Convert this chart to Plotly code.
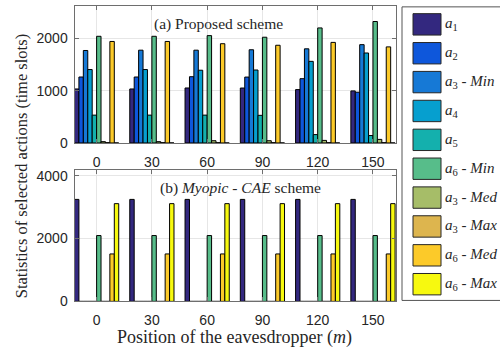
import plotly.graph_objects as go

# Eavesdropper positions (m)
positions = [0, 30, 60, 90, 120, 150]
tick_labels = ["0", "30", "60", "90", "120", "150"]

# Action labels, in bar order within each group
legend_labels = [
    "<i>a</i><sub>1</sub>",
    "<i>a</i><sub>2</sub>",
    "<i>a</i><sub>3</sub> - <i>Min</i>",
    "<i>a</i><sub>4</sub>",
    "<i>a</i><sub>5</sub>",
    "<i>a</i><sub>6</sub> - <i>Min</i>",
    "<i>a</i><sub>3</sub> - <i>Med</i>",
    "<i>a</i><sub>3</sub> - <i>Max</i>",
    "<i>a</i><sub>6</sub> - <i>Med</i>",
    "<i>a</i><sub>6</sub> - <i>Max</i>",
]
colors = ["#33287f", "#0e57db", "#1679d6", "#069fcf", "#14b0ad",
          "#57bd8a", "#a6bd68", "#ddb54e", "#fcca29", "#f7f90f"]

# (a) Proposed scheme: selection counts (time slots)
prop_a1 = [1034, 1034, 1053, 1052, 1022, 997]
prop_a2 = [1263, 1263, 1269, 1262, 1231, 972]
prop_a3_min = [1771, 1777, 1777, 1785, 1803, 1883]
prop_a4 = [1406, 1406, 1393, 1397, 1563, 1723]
prop_a5 = [533, 533, 533, 529, 160, 142]
prop_a6_min = [2043, 2043, 2056, 2025, 2203, 2326]
prop_a3_med = [25, 25, 43, 43, 49, 68]
prop_a3_max = [5, 5, 5, 5, 5, 5]
prop_a6_med = [1944, 1944, 1901, 1871, 1926, 1840]
prop_a6_max = [0, 0, 0, 0, 0, 0]

# (b) Myopic - CAE scheme: selection counts (time slots)
myo_a1 = [3245, 3245, 3245, 3245, 3245, 3245]
myo_a2 = [0, 0, 0, 0, 0, 0]
myo_a3_min = [0, 0, 0, 0, 0, 0]
myo_a4 = [0, 0, 0, 0, 0, 0]
myo_a5 = [0, 0, 0, 0, 0, 0]
myo_a6_min = [2095, 2095, 2095, 2095, 2095, 2095]
myo_a3_med = [0, 0, 0, 0, 0, 0]
myo_a3_max = [0, 0, 0, 0, 0, 0]
myo_a6_med = [1510, 1510, 1510, 1510, 1510, 1510]
myo_a6_max = [3110, 3110, 3110, 3110, 3110, 3110]

proposed = [prop_a1, prop_a2, prop_a3_min, prop_a4, prop_a5,
            prop_a6_min, prop_a3_med, prop_a3_max, prop_a6_med, prop_a6_max]
myopic = [myo_a1, myo_a2, myo_a3_min, myo_a4, myo_a5,
          myo_a6_min, myo_a3_med, myo_a3_max, myo_a6_med, myo_a6_max]

W, H = 500, 358


def px(x):
    return x / W


def py(y):
    return 1 - y / H


fig = go.Figure()
for i, col in enumerate(colors):
    fig.add_trace(go.Bar(x=positions, y=proposed[i], xaxis="x", yaxis="y",
                         marker=dict(color=col, line=dict(color="#000000", width=1)),
                         showlegend=False))
    fig.add_trace(go.Bar(x=positions, y=myopic[i], xaxis="x2", yaxis="y2",
                         marker=dict(color=col, line=dict(color="#000000", width=1)),
                         showlegend=False))

axis_line = "#6e6e6e"
grid_col = "#e6e6e6"
tick_font = dict(family="Liberation Sans, Arial, sans-serif", size=14, color="#262626")
serif = "Liberation Serif, Times New Roman, serif"

common_x = dict(range=[-12, 162.5], tickvals=positions, ticktext=tick_labels,
                showline=True, linecolor=axis_line, linewidth=1, mirror="ticks",
                ticks="inside", ticklen=4, tickcolor=axis_line,
                showgrid=True, gridcolor=grid_col, zeroline=False,
                tickfont=tick_font, ticklabelstandoff=6)
common_y = dict(showline=True, linecolor=axis_line, linewidth=1, mirror="ticks",
                ticks="inside", ticklen=4, tickcolor=axis_line,
                showgrid=True, gridcolor=grid_col, zeroline=False,
                tickfont=tick_font, ticklabelstandoff=3)

fig.update_layout(
    width=W, height=H,
    margin=dict(l=0, r=0, t=0, b=0),
    paper_bgcolor="white", plot_bgcolor="white",
    barmode="group", bargap=0.2, bargroupgap=0,
    showlegend=False,
    xaxis=dict(domain=[px(74.5), px(396)], anchor="y", **common_x),
    yaxis=dict(domain=[py(145), py(4.5)], anchor="x", range=[0, 2616],
               tickvals=[0, 1000, 2000], **common_y),
    xaxis2=dict(domain=[px(74.5), px(396)], anchor="y2", **common_x),
    yaxis2=dict(domain=[py(308), py(173)], anchor="x2", range=[0, 4175],
                tickvals=[0, 2000, 4000], **common_y),
)


def note(text, x, y, size, **kw):
    return dict(text=text, x=px(x), y=py(y), xref="paper", yref="paper",
                xanchor=kw.pop("xanchor", "center"), yanchor="middle",
                showarrow=False, font=dict(family=serif, size=size, color="#262626"), **kw)


annotations = [
    note("(a) Proposed scheme", 218, 22.5, 15.5),
    note("(b) <i>Myopic - CAE</i> scheme", 240, 191, 15.5),
    note("Position of the eavesdropper (<i>m</i>)", 234.5, 345, 18),
    note("Statistics of selected actions (time slots)", 21, 169, 16.5, textangle=-90),
]

# Legend panel drawn as patches with labels
shapes = [dict(type="rect", xref="paper", yref="paper",
               x0=px(402), x1=px(506), y0=py(307), y1=py(5),
               line=dict(color="#555555", width=1), fillcolor="white", layer="below")]
for i, (lab, col) in enumerate(zip(legend_labels, colors)):
    cy = 23 + 29.7 * i
    shapes.append(dict(type="rect", xref="paper", yref="paper",
                       x0=px(413), x1=px(441), y0=py(cy + 11), y1=py(cy - 11),
                       line=dict(color="#262626", width=1), fillcolor=col))
    annotations.append(note(lab, 443, cy, 15, xanchor="left"))

fig.update_layout(shapes=shapes, annotations=annotations)
fig.write_html("out.html")
